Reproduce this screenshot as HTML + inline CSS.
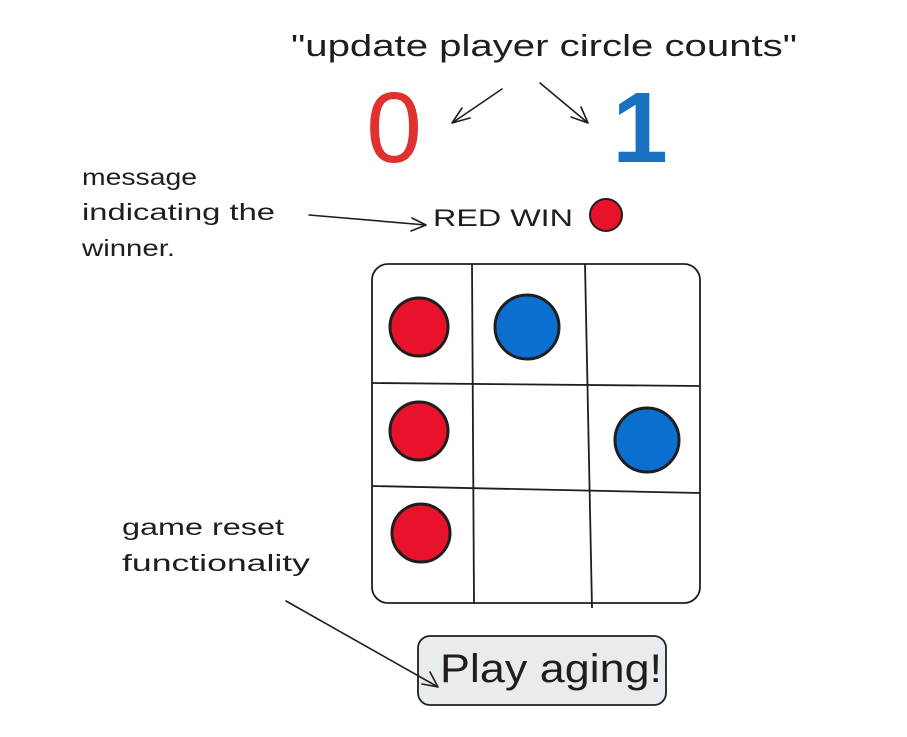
<!DOCTYPE html>
<html><head><meta charset="utf-8"><style>
html,body{margin:0;padding:0;background:#fff;}
svg{display:block;}
text{font-family:"Liberation Sans",sans-serif;fill:#1e1e1e;}
</style></head><body>
<svg width="907" height="737" viewBox="0 0 907 737" xmlns="http://www.w3.org/2000/svg">
<text x="291" y="56" font-size="31" textLength="506" lengthAdjust="spacingAndGlyphs">"update player circle counts"</text>
<text x="394" y="162" font-size="100" text-anchor="middle" style="fill:#e03131">0</text>
<text x="640" y="162" font-size="100" text-anchor="middle" style="fill:#1971c2;font-weight:bold">1</text>
<text x="82" y="185" font-size="23" textLength="115" lengthAdjust="spacingAndGlyphs">message</text>
<text x="82" y="220" font-size="23" textLength="193" lengthAdjust="spacingAndGlyphs">indicating the</text>
<text x="82" y="256" font-size="23" textLength="93" lengthAdjust="spacingAndGlyphs">winner.</text>
<text x="433" y="226" font-size="24" textLength="140" lengthAdjust="spacingAndGlyphs">RED WIN</text>
<circle cx="606" cy="215" r="16" fill="#e8132a" stroke="#1e1e1e" stroke-width="2"/>
<text x="122" y="535" font-size="23" textLength="162" lengthAdjust="spacingAndGlyphs">game reset</text>
<text x="122" y="571" font-size="23" textLength="188" lengthAdjust="spacingAndGlyphs">functionality</text>
<rect x="372" y="264" width="328" height="339" rx="16" fill="none" stroke="#1e1e1e" stroke-width="1.8"/>
<g stroke="#1e1e1e" stroke-width="1.8" fill="none">
<path d="M472 264 L474 604"/>
<path d="M585 264 L592 608"/>
<path d="M372 383 L700 386"/>
<path d="M372 486 L700 493"/>
</g>
<g stroke="#1e1e1e" stroke-width="3">
<circle cx="419" cy="327" r="29" fill="#e8132a"/>
<circle cx="527" cy="327" r="32" fill="#0b6fd0"/>
<circle cx="419" cy="431" r="29" fill="#e8132a"/>
<circle cx="647" cy="440" r="32" fill="#0b6fd0"/>
<circle cx="421" cy="533" r="29" fill="#e8132a"/>
</g>
<rect x="418" y="636" width="248" height="69" rx="12" fill="#e9ecef" stroke="#1e1e1e" stroke-width="1.8"/>
<text x="440" y="682" font-size="40" textLength="222" lengthAdjust="spacingAndGlyphs">Play aging!</text>
<g stroke="#1e1e1e" stroke-width="1.6" fill="none" stroke-linecap="round">
<path d="M502 89 L452 123 M452 123 L470 118 M452 123 L462 108"/>
<path d="M540 83 L588 123 M588 123 L571 117 M588 123 L581 107"/>
<path d="M309 215 L426 225 M426 225 L412 218 M426 225 L411 231"/>
<path d="M286 601 L438 687 M438 687 L430 672 M438 687 L422 684"/>
</g>
</svg>
</body></html>
